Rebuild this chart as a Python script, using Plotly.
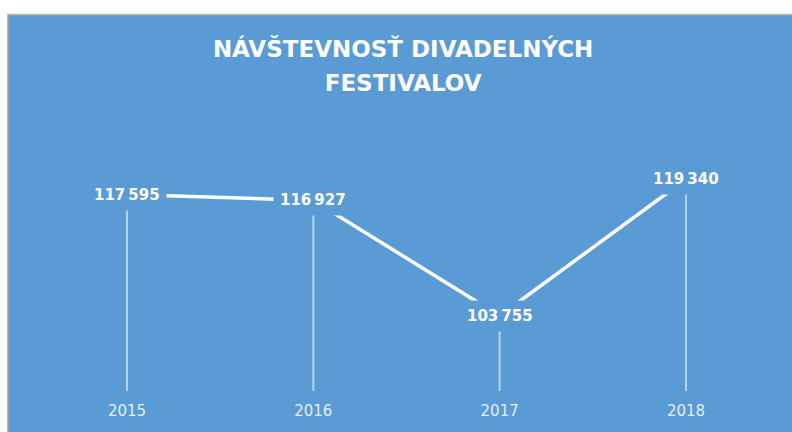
import plotly.graph_objects as go

years = ["2015", "2016", "2017", "2018"]
visitors = [117595, 116927, 103755, 119340]
title_lines = ["NÁVŠTEVNOSŤ DIVADELNÝCH", "FESTIVALOV"]

BLUE = "#5B9BD5"
Y_MIN, Y_MAX = 95183, 124958
xpos = list(range(len(years)))

def fmt(v):
    return f"{v:,}".replace(",", "\u2009")

fig = go.Figure()
fig.add_trace(go.Scatter(
    x=xpos, y=visitors, mode="lines",
    line=dict(color="white", width=3.5),
    error_y=dict(type="data", symmetric=False,
                 array=[0] * len(visitors),
                 arrayminus=[v - Y_MIN for v in visitors],
                 color="rgba(255,255,255,0.55)", thickness=2, width=0),
    hoverinfo="skip", showlegend=False,
))

for xi, v in zip(xpos, visitors):
    fig.add_annotation(x=xi, y=v, xref="x", yref="y", text=fmt(v),
                       showarrow=False, bgcolor=BLUE, borderpad=6,
                       font=dict(family="DejaVu Sans", size=15, color="white", weight="bold"))

fig.add_shape(type="rect", xref="paper", yref="paper",
              x0=-0.0774, x1=1.2, y0=-0.3, y1=1.4415,
              fillcolor=BLUE, line=dict(color="rgba(170,160,150,0.7)", width=2),
              layer="below")

title_text = "<br>".join(f"<span style='font-size:23px'>{t}</span>" for t in title_lines)

fig.update_layout(
    width=792, height=432,
    margin=dict(l=60, r=60, t=130, b=37),
    paper_bgcolor="white", plot_bgcolor="rgba(0,0,0,0)",
    title=dict(text=title_text, x=0.509, xanchor="center",
               y=1 - 57 / 432, yanchor="top",
               font=dict(family="DejaVu Sans", size=26, color="white", weight="bold")),
    xaxis=dict(range=[-0.3596, 3.247], showgrid=False, zeroline=False,
               showline=False, tickmode="array", tickvals=xpos, ticktext=years,
               ticks="outside", ticklen=6, tickcolor="rgba(0,0,0,0)",
               tickfont=dict(family="DejaVu Sans", size=15, color="rgba(255,255,255,0.85)")),
    yaxis=dict(range=[Y_MIN, Y_MAX], visible=False),
)

fig.write_html("out.html", config={"displayModeBar": False},
               post_script="document.body.style.margin='0';document.body.style.overflow='hidden';")
